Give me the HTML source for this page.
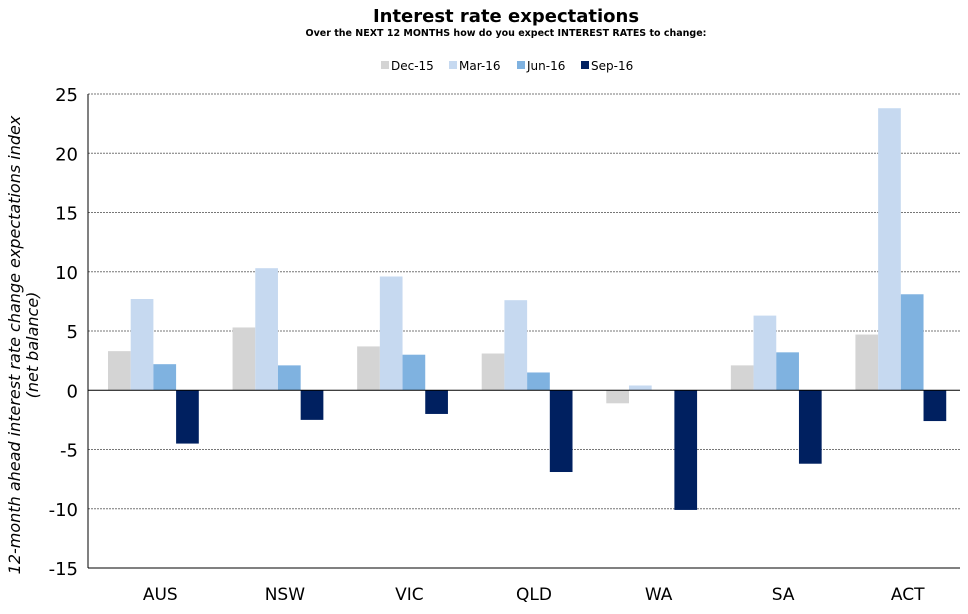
<!DOCTYPE html>
<html><head><meta charset="utf-8"><style>
body{margin:0;background:#fff;}
svg{display:block;font-family:"DejaVu Sans","Liberation Sans",sans-serif;}
</style></head><body>
<svg id="chart" width="968" height="614">
<text x="506" y="22" text-anchor="middle" font-size="18" font-weight="bold">Interest rate expectations</text>
<text x="506" y="36" text-anchor="middle" font-size="9.5" font-weight="bold">Over the NEXT 12 MONTHS how do you expect INTEREST RATES to change:</text>
<g id="legend"></g>
<g id="grid"></g><g id="bars"></g><g id="axes"></g>
<text transform="translate(20,345) rotate(-90)" text-anchor="middle" font-size="16" font-style="italic"><tspan x="0" dy="0">12-month ahead interest rate change expectations index</tspan><tspan x="0" dy="18">(net balance)</tspan></text>
</svg>
<script>
const categories=["AUS","NSW","VIC","QLD","WA","SA","ACT"];
const seriesNames=["Dec-15","Mar-16","Jun-16","Sep-16"];
const dec15=[3.3,5.3,3.7,3.1,-1.1,2.1,4.7];
const mar16=[7.7,10.3,9.6,7.6,0.4,6.3,23.8];
const jun16=[2.2,2.1,3.0,1.5,0,3.2,8.1];
const sep16=[-4.5,-2.5,-2.0,-6.9,-10.1,-6.2,-2.6];
const yTicks=[25,20,15,10,5,0,-5,-10,-15];
const series=[dec15,mar16,jun16,sep16];
const colors=["#d4d4d4","#c6d9f0","#7fb2e0","#002060"];
const NS="http://www.w3.org/2000/svg";
const plotLeft=88,plotRight=960,plotTop=94,plotBottom=568,yMax=25,yMin=-15;
const yScale=v=>plotTop+(yMax-v)*(plotBottom-plotTop)/(yMax-yMin);
const band=(plotRight-plotLeft)/categories.length;
const bw=22.7;
const xScale=(c,s)=>plotLeft+c*band+20+s*bw;
function mk(t,a,p){const e=document.createElementNS(NS,t);for(const k in a)e.setAttribute(k,a[k]);(p||document.getElementById('chart')).appendChild(e);return e;}
const grid=document.getElementById('grid'),axes=document.getElementById('axes'),bars=document.getElementById('bars'),leg=document.getElementById('legend');
yTicks.forEach(t=>{
 if(t!==0){const l=mk('line',{x1:plotLeft,x2:plotRight,y1:yScale(t),y2:yScale(t),stroke:'#777','stroke-width':1,'stroke-dasharray':'2,1'},grid);
 
 }
 const tx=mk('text',{x:plotLeft-10,y:yScale(t)+7,'text-anchor':'end','font-size':18},axes);tx.textContent=t;
 
 
});
series.forEach((arr,s)=>arr.forEach((v,c)=>{
 const r=mk('rect',{x:xScale(c,s),y:Math.min(yScale(v),yScale(0)),width:bw,height:Math.abs(yScale(v)-yScale(0)),fill:colors[s]},bars);
 
 
}));
const zl=mk('line',{x1:plotLeft,x2:plotRight,y1:yScale(0),y2:yScale(0),stroke:'#000','stroke-width':1},axes);


const ya=mk('line',{x1:plotLeft,x2:plotLeft,y1:plotTop,y2:plotBottom,stroke:'#000','stroke-width':1},axes);


const xa=mk('line',{x1:plotLeft,x2:plotRight,y1:plotBottom,y2:plotBottom,stroke:'#000','stroke-width':1},axes);


categories.forEach((c,i)=>{
 const t=mk('text',{x:plotLeft+(i+0.5)*band+10,y:600,'text-anchor':'middle','font-size':17},axes);t.textContent=c;
 
 
});
const lx=[381,449,517,581];
seriesNames.forEach((n,i)=>{
 const g=mk('g',{},leg);
 
 
 mk('rect',{x:lx[i],y:61,width:8,height:8,fill:colors[i]},g);
 const t=mk('text',{x:lx[i]+10,y:70,'font-size':12},g);t.textContent=n;
});
</script>
</body></html>
